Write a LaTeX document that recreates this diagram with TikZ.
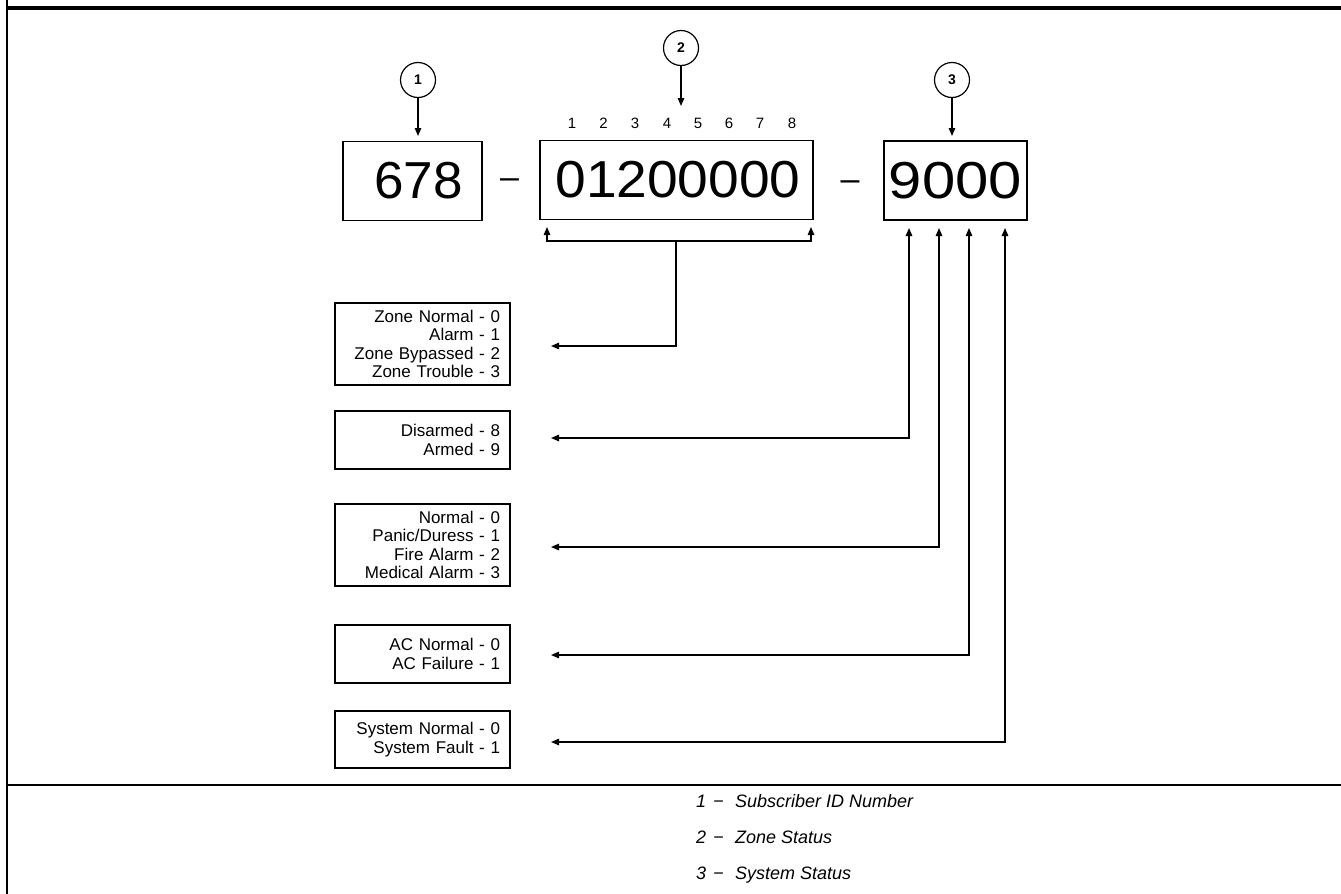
\documentclass[tikz,border=0pt]{standalone}
\usepackage{fontspec}
\setmainfont{Liberation Sans}
\usetikzlibrary{arrows.meta}
\begin{document}
\begin{tikzpicture}[x=1pt,y=-1pt,
  bigbox/.style={draw, line width=1.8pt, inner sep=0pt, minimum height=79pt, font=\fontsize{52}{56}\selectfont},
  bigdash/.style={inner sep=0pt, anchor=base, font=\fontsize{34}{36}\selectfont},
  callout/.style={draw, circle, line width=1.2pt, minimum size=35pt, inner sep=0pt, font=\fontsize{14}{16}\selectfont\bfseries},
  poslabel/.style={inner sep=0pt, font=\fontsize{15}{17}\selectfont},
  lbox/.style={draw, line width=1.8pt, text width=155pt, inner xsep=10pt, inner ysep=0pt, minimum width=175pt, align=right, font=\fontsize{17}{18.5}\selectfont},
  arr/.style={line width=1.3pt, -{Triangle[length=8pt,width=6.5pt]}},
  dblarr/.style={line width=1.3pt, {Triangle[length=8pt,width=6.5pt]}-{Triangle[length=8pt,width=6.5pt]}},
  leg/.style={inner sep=0pt, anchor=base west, font=\fontsize{18}{21}\selectfont\itshape}
]
\useasboundingbox (0,0) rectangle (1341,894);
% frame
\draw[line width=2pt] (7,0) -- (7,894);
\draw[line width=4pt] (6,7.5) -- (1341,7.5);
\draw[line width=2.5pt] (6,785) -- (1341,785);

% main number boxes
\node[bigbox, minimum width=139pt] (b1) at (412.5,181) {\hspace*{12pt}\scalebox{1.02}[1]{678}};
\node[bigbox, minimum width=273pt] (b2) at (676.5,180) {\hspace*{3pt}\scalebox{1.06}[1]{01200000}};
\node[bigbox, minimum width=143pt] (b3) at (955.5,180.5) {\scalebox{1.15}[1]{9000}};
\node[bigdash] (d1) at (509.5,188.5) {–};
\node[bigdash] (d2) at (850,190.5) {–};

% callouts
\node[callout] (c1) at (418,80) {1};
\node[callout] (c2) at (681,48) {2};
\node[callout] (c3) at (952,80) {3};
\coordinate (t1) at (418,136);
\coordinate (t2) at (681,106);
\coordinate (t3) at (952,136);
\draw[arr] (c1) -- (t1);
\draw[arr] (c2) -- (t2);
\draw[arr] (c3) -- (t3);

% digit positions
\foreach \i/\x in {1/572,2/603.5,3/635,4/667,5/698,6/729,7/760,8/792}
  \node[poslabel] (p\i) at (\x,123) {\i};

% status boxes
\node[lbox, minimum height=82pt] (A) at (422.5,344) {Zone Normal - 0\\Alarm - 1\\Zone Bypassed - 2\\Zone Trouble - 3};
\node[lbox, minimum height=58pt] (B) at (422.5,440) {Disarmed - 8\\Armed - 9};
\node[lbox, minimum height=82pt] (C) at (422.5,545) {Normal - 0\\Panic/Duress - 1\\Fire Alarm - 2\\Medical Alarm - 3};
\node[lbox, minimum height=58pt] (D) at (422.5,654) {AC Normal - 0\\AC Failure - 1};
\node[lbox, minimum height=57pt] (E) at (422.5,739.5) {System Normal - 0\\System Fault - 1};

% bracket under zone status
\coordinate (bm) at (676,241);
\coordinate (tl) at (547,227);
\coordinate (tr) at (811,227);
\coordinate (tA) at (551,346);
\draw[arr] (bm) -| (tl);
\draw[arr] (bm) -| (tr);
\draw[arr] (bm) |- (tA);

% system status arrows
\coordinate (u1) at (909,228);
\coordinate (u2) at (939,228);
\coordinate (u3) at (969,228);
\coordinate (u4) at (1005,228);
\coordinate (tB) at (551,438);
\coordinate (tC) at (551,547);
\coordinate (tD) at (551,655);
\coordinate (tE) at (551,742);
\draw[dblarr] (tB) -| (u1);
\draw[dblarr] (tC) -| (u2);
\draw[dblarr] (tD) -| (u3);
\draw[dblarr] (tE) -| (u4);

% legend
\node[leg] (n1) at (696,807) {1};
\node[leg] (m1) at (713,807) {−};
\node[leg] (l1) at (735,807) {Subscriber ID Number};
\node[leg] (n2) at (696,843) {2};
\node[leg] (m2) at (713,843) {−};
\node[leg] (l2) at (735,843) {Zone Status};
\node[leg] (n3) at (696,879) {3};
\node[leg] (m3) at (713,879) {−};
\node[leg] (l3) at (735,879) {System Status};
\end{tikzpicture}
\end{document}
